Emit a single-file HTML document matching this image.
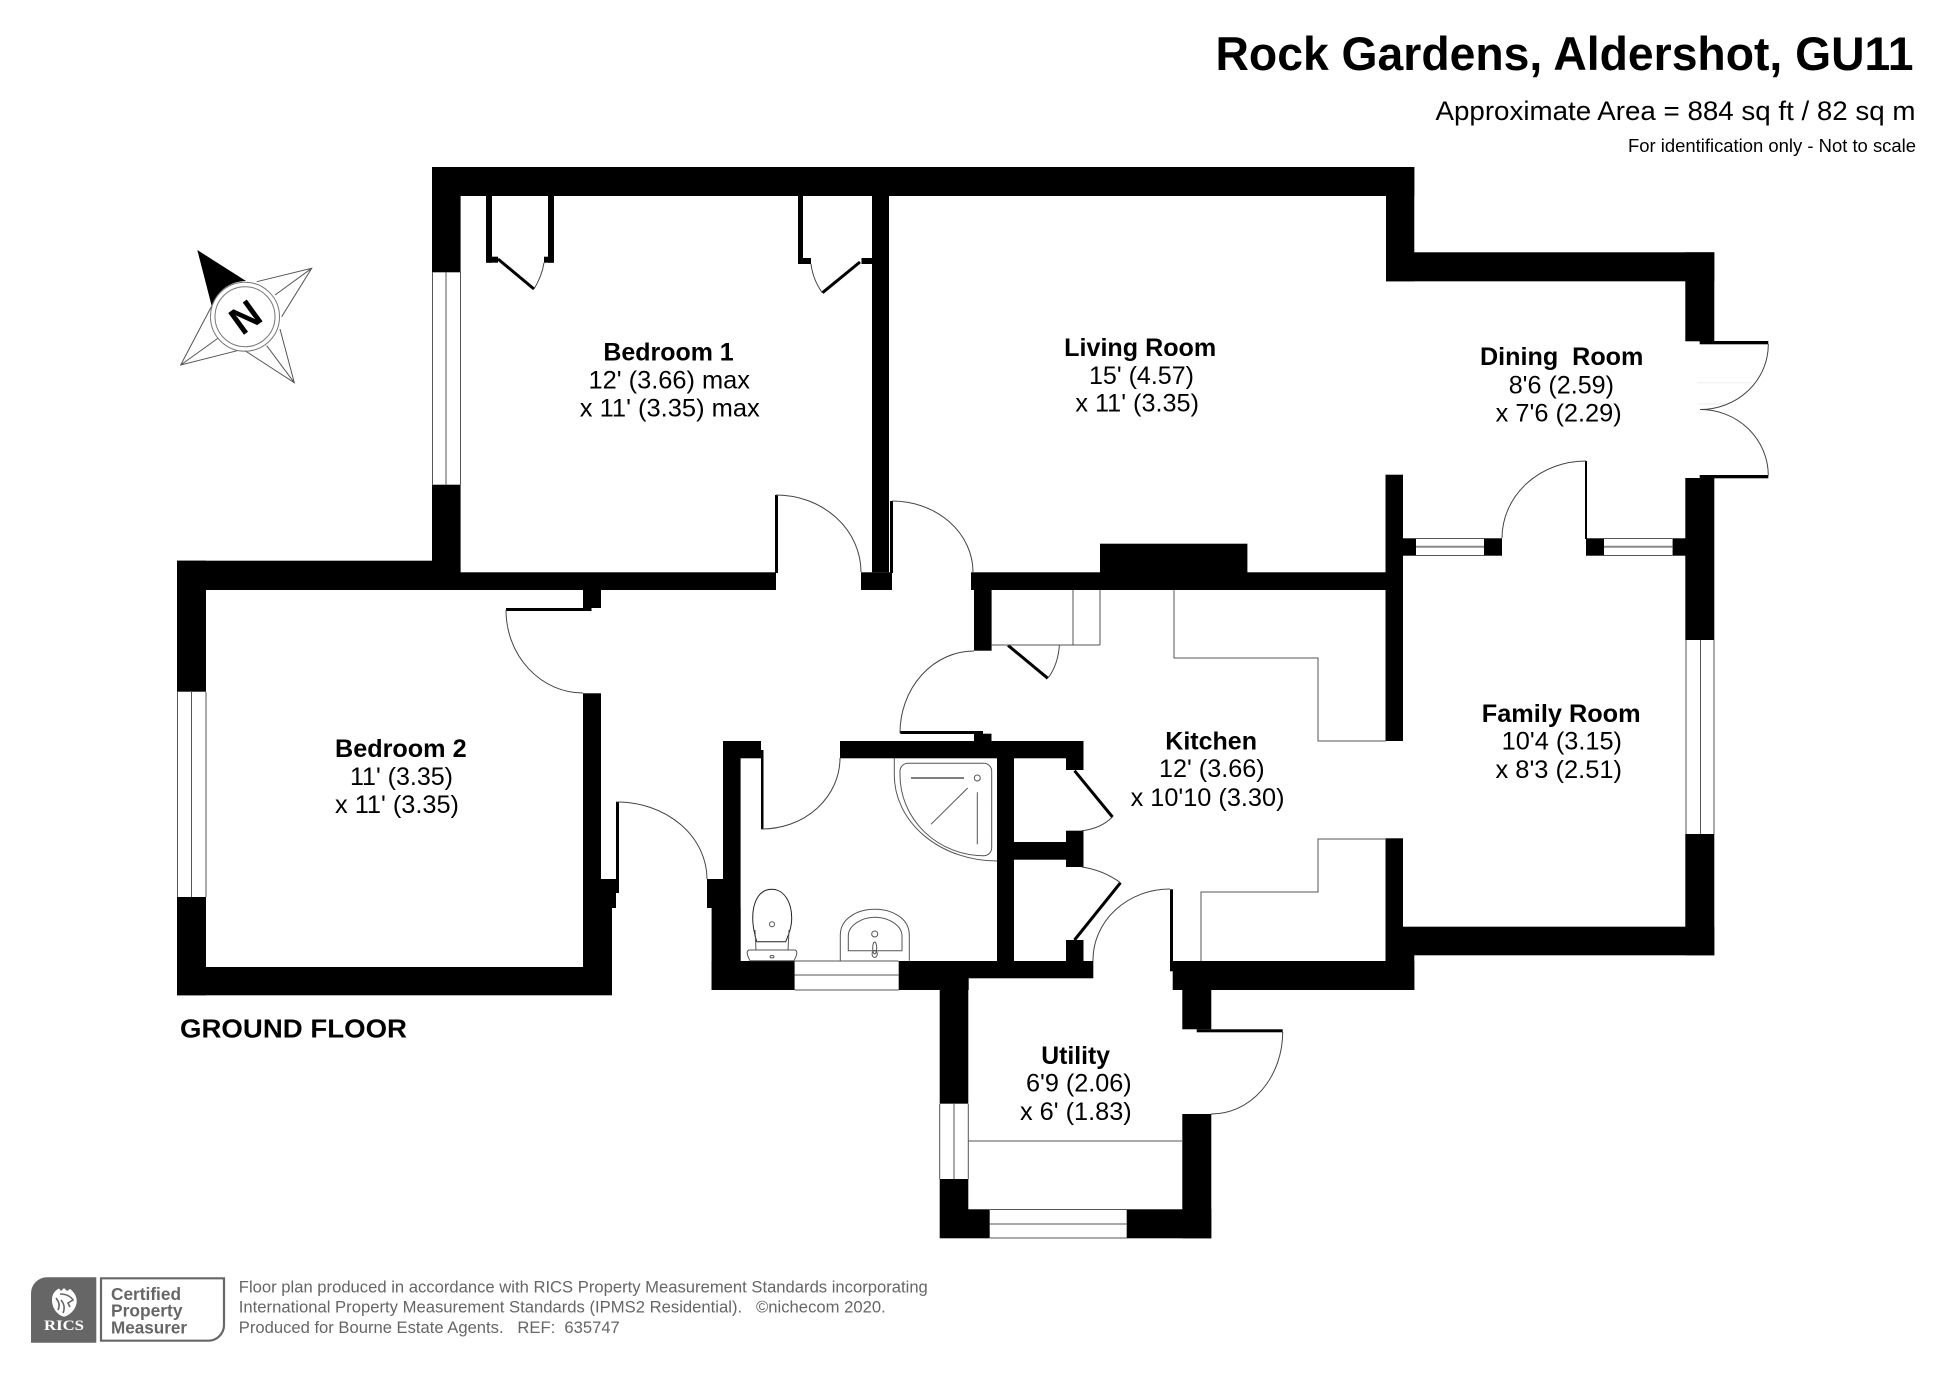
<!DOCTYPE html>
<html><head><meta charset="utf-8"><title>Rock Gardens floor plan</title>
<style>html,body{margin:0;padding:0;background:#fff}svg{display:block}
text{font-family:"Liberation Sans",sans-serif;fill:#000}
.b{font-weight:bold;font-size:25px}.r{font-size:25px}
.l{fill:none;stroke:#555;stroke-width:1}
.d{fill:none;stroke:#444;stroke-width:1}
.t{fill:none;stroke:#000;stroke-width:3}
.f{font-size:16.5px;fill:#666}
.c{font-size:17.7px;font-weight:bold;fill:#666}
</style></head><body>
<svg width="1946" height="1376" viewBox="0 0 1946 1376" xmlns="http://www.w3.org/2000/svg">
<rect width="1946" height="1376" fill="#fff"/>
<text x="1215.5" y="70" font-size="47" font-weight="bold" textLength="698" lengthAdjust="spacingAndGlyphs">Rock Gardens, Aldershot, GU11</text>
<text x="1435.5" y="120" font-size="27" textLength="480" lengthAdjust="spacingAndGlyphs">Approximate Area = 884 sq ft / 82 sq m</text>
<text x="1628" y="152" font-size="18" textLength="288" lengthAdjust="spacingAndGlyphs">For identification only - Not to scale</text>

<g fill="#000">
<rect x="432" y="167" width="982.3" height="29"/>
<rect x="1386" y="167" width="28.3" height="114.3"/>
<rect x="1386" y="252.3" width="328.3" height="29"/>
<rect x="1685.3" y="252.3" width="29" height="89"/>
<rect x="1699.7" y="341" width="68.6" height="3.3"/>
<rect x="1699.7" y="475" width="68.6" height="3.3"/>
<rect x="1685.3" y="478" width="29" height="162"/>
<rect x="1685.3" y="834" width="29" height="121.3"/>
<rect x="1402" y="926.7" width="312.3" height="28.6"/>
<rect x="1385.5" y="474.7" width="17.5" height="266.3"/>
<rect x="1385.5" y="838.3" width="17.5" height="122.7"/>
<rect x="1385.5" y="955" width="28.8" height="35"/>
<rect x="1403" y="538.3" width="13" height="17.4"/>
<rect x="1484" y="538.3" width="18" height="17.4"/>
<rect x="1586" y="538.3" width="18" height="17.4"/>
<rect x="1672.6" y="538.3" width="13" height="17.4"/>
<rect x="1585" y="461" width="2" height="78"/>
<rect x="432" y="167" width="28.6" height="105.3"/>
<rect x="432" y="484.7" width="28.6" height="105.3"/>
<rect x="177" y="560.7" width="283" height="29.3"/>
<rect x="432" y="572.3" width="344" height="17.7"/>
<rect x="775" y="495" width="3" height="78"/>
<rect x="177" y="560.7" width="29" height="131"/>
<rect x="177" y="897" width="29" height="98.3"/>
<rect x="177" y="967" width="435" height="28.3"/>
<rect x="583" y="693.3" width="18" height="186"/>
<rect x="583" y="879" width="36" height="14"/>
<rect x="583" y="893" width="33" height="15"/>
<rect x="583" y="908" width="29" height="87"/>
<rect x="583" y="590" width="18" height="18"/>
<rect x="506" y="608" width="85.5" height="3"/>
<rect x="616" y="801.7" width="3" height="78"/>
<rect x="872" y="196" width="17" height="376.3"/>
<rect x="861" y="572.3" width="31" height="17.7"/>
<rect x="890" y="501" width="3" height="72"/>
<rect x="971" y="572.3" width="415" height="17.7"/>
<rect x="1100" y="543.7" width="147.4" height="29"/>
<rect x="974" y="590" width="17.6" height="60.7"/>
<rect x="900.4" y="731" width="82.6" height="3"/>
<rect x="974" y="733.7" width="17.5" height="8"/>
<rect x="723" y="741" width="38" height="17.3"/>
<rect x="761" y="750" width="2.5" height="79.3"/>
<rect x="840" y="741" width="243.5" height="17.3"/>
<rect x="723" y="741" width="17.6" height="249"/>
<rect x="707" y="879" width="33" height="29"/>
<rect x="711.6" y="908" width="29" height="82"/>
<rect x="711.6" y="961" width="83" height="29"/>
<rect x="898.7" y="961" width="194.6" height="17.3"/>
<rect x="898.7" y="978" width="70" height="12"/>
<rect x="997" y="758" width="17" height="203"/>
<rect x="1066" y="758" width="17.5" height="12"/>
<rect x="1066" y="830.7" width="17.5" height="36.3"/>
<rect x="1014" y="842" width="52" height="17.7"/>
<rect x="1066" y="940" width="17.5" height="21"/>
<rect x="939.7" y="978" width="28.6" height="125.7"/>
<rect x="939.7" y="1179" width="28.6" height="59.3"/>
<rect x="968" y="1209.3" width="21.7" height="29"/>
<rect x="1126.7" y="1209.3" width="84.6" height="29"/>
<rect x="1182.3" y="1114" width="29" height="124.3"/>
<rect x="1172.7" y="961" width="241.6" height="29"/>
<rect x="1170" y="889.3" width="3" height="82"/>
<rect x="1182.3" y="978" width="29" height="51.3"/>
<rect x="1196.7" y="1029.3" width="86" height="3"/>
<!-- closets -->
<rect x="486" y="196" width="6" height="66.7"/>
<rect x="486" y="256.7" width="12" height="6"/>
<rect x="548" y="196" width="6" height="66.7"/>
<rect x="544" y="256.7" width="10" height="6"/>
<rect x="798" y="196" width="5" height="68"/>
<rect x="798" y="258" width="13" height="6"/>
<rect x="861.5" y="258" width="10.5" height="6"/>
</g>
<!-- door leaves -->
<path class="t" d="M498,259L534,289M860,262L822.5,292.7M1008,645.3L1047.8,678.3M1074.5,770.7L1112.5,817M1074.5,940L1120.5,882.7"/>
<!-- door arcs -->
<path class="d" d="M776,495A85,77 0 0 1 861,572M892,501A81,71 0 0 1 973,572M506,610A77,83 0 0 0 583,693M617,802A90,77 0 0 1 707,879M762,829A78,71 0 0 0 840,758M974,651A74,82 0 0 0 900,733M1170,889A77,71 0 0 0 1093,961M1586,461A84,77 0 0 0 1502,538M1282.7,1032A71,82 0 0 1 1211,1114M1768.3,344A68,65 0 0 1 1700,409.5M1700,409.5A68,66 0 0 1 1768.3,475.5M534,289Q542,276 544,262.7M822.5,293Q813,280 811,264M1048,678Q1058,665 1059.4,645M1112.5,817Q1100,829 1081.7,830.7M1081.7,867Q1103,870 1120.5,882.7"/>
<path d="M1697,382.7H1752M1697,404H1725" stroke="#eee" fill="none"/>
<!-- windows -->
<g class="l">
<path d="M432.5,272V485M446,272V485M460.5,272V485"/>
<path d="M177.5,692V897M191.5,692V897M206,692V897"/>
<path d="M1686,640V834M1700.5,640V834M1714,640V834"/>
<path d="M1416,538.5H1484M1416,555.5H1484M1604,538.5H1672.6M1604,555.5H1672.6"/>
<path d="M1416,546.7H1484M1604,546.7H1672.6" stroke-width="2" stroke="#888"/>
<path d="M794.6,961H898.7M794.6,975H898.7M794.6,990H898.7"/>
<path d="M939.7,1104V1179M954,1104V1179M968.3,1104V1179"/>
<path d="M990,1209.5H1127M990,1224H1127M990,1238H1127"/>
<path d="M968,1141H1182"/>
<path d="M1073,590V645M1100,590V645M991.6,645H1100"/>
<path d="M1386,741H1318V658H1174V590"/>
<path d="M1386,839H1318V892H1201V961"/>
<!-- shower -->
<path d="M894.3,758V775A102.7,86 0 0 0 997,861"/>
<path d="M900,775V771A8,8 0 0 1 908,763.3H984A8,8 0 0 1 991.7,771V848A8,8 0 0 1 984,855.7A84,80.7 0 0 1 900,775Z"/>
<path d="M911,778H964" stroke-width="1.5"/>
<circle cx="977.3" cy="778" r="3"/>
<path d="M967.7,788L931,824.3M977.3,792.3V844.3"/>
<!-- toilet -->
<path d="M771.7,889.3C759,889.3 752.7,902 752.7,918C752.7,928 755,936 756.7,941.7H785.7C788,936 791.7,928 791.7,918C791.7,902 784,889.3 771.7,889.3Z" stroke="#222"/>
<path d="M755,930L756,950M789,930L788,950"/>
<circle cx="772" cy="924.3" r="2.5"/>
<path d="M750,960.7C747,955 746,951 749,950H795C798,951 797,955 794,960.7Z"/>
<ellipse cx="772" cy="956.7" rx="2" ry="1.2"/>
<!-- sink -->
<path d="M840.3,960.7V935C840.3,918 858,909.3 875,909.3C892,909.3 909.3,918 909.3,935V960.7"/>
<path d="M848.3,950.7V936C848.3,925 862,917.3 875,917.3C888,917.3 902,925 902,936V950.7Z"/>
<circle cx="874.7" cy="934" r="3"/>
<ellipse cx="874.7" cy="948" rx="2" ry="6"/>
<ellipse cx="874.7" cy="954" rx="2.6" ry="3.5"/>
</g>
<!-- compass -->
<g>
<path d="M197.3,250L246,281A36,36 0 0 0 211.7,306Z" fill="#000"/>
<path class="l" stroke="#777" d="M211.7,306L180.7,365L237.3,350.7M180.7,365L218.3,338M256.7,281.7L311.7,268.3L281.7,316.7M311.7,268.3L275,295M245,350.7L294.3,382.7L280,329M294.3,382.7L266.7,345.7"/>
<circle cx="245" cy="316.7" r="34.5" fill="none" stroke="#777"/>
<circle cx="245" cy="316.7" r="30" fill="none" stroke="#777"/>
<text transform="translate(245 316.7) rotate(-36)" x="0" y="14" text-anchor="middle" font-size="39" font-weight="bold">N</text>
</g>
<!-- labels -->
<text class="b" x="603.4" y="360.7" textLength="130.3" lengthAdjust="spacingAndGlyphs">Bedroom 1</text>
<text class="r" x="588.5" y="388.7" textLength="161.5" lengthAdjust="spacingAndGlyphs">12' (3.66) max</text>
<text class="r" x="579.8" y="416.7" textLength="180" lengthAdjust="spacingAndGlyphs">x 11' (3.35) max</text>
<text class="b" x="1064.2" y="356" textLength="152" lengthAdjust="spacingAndGlyphs">Living Room</text>
<text class="r" x="1089" y="384" textLength="105" lengthAdjust="spacingAndGlyphs">15' (4.57)</text>
<text class="r" x="1075.4" y="411.7" textLength="123.6" lengthAdjust="spacingAndGlyphs">x 11' (3.35)</text>
<text class="b" x="1480" y="365" textLength="163.4" lengthAdjust="spacingAndGlyphs" xml:space="preserve">Dining  Room</text>
<text class="r" x="1508.7" y="393.3" textLength="105.3" lengthAdjust="spacingAndGlyphs">8'6 (2.59)</text>
<text class="r" x="1495.7" y="421.7" textLength="126" lengthAdjust="spacingAndGlyphs">x 7'6 (2.29)</text>
<text class="b" x="1481.8" y="722" textLength="158.8" lengthAdjust="spacingAndGlyphs">Family Room</text>
<text class="r" x="1501.7" y="749.6" textLength="120.3" lengthAdjust="spacingAndGlyphs">10'4 (3.15)</text>
<text class="r" x="1495.5" y="778" textLength="126.5" lengthAdjust="spacingAndGlyphs">x 8'3 (2.51)</text>
<text class="b" x="1165.3" y="749.6" textLength="91.7" lengthAdjust="spacingAndGlyphs">Kitchen</text>
<text class="r" x="1159" y="777" textLength="105.6" lengthAdjust="spacingAndGlyphs">12' (3.66)</text>
<text class="r" x="1130.6" y="806" textLength="153.9" lengthAdjust="spacingAndGlyphs">x 10'10 (3.30)</text>
<text class="b" x="335" y="757" textLength="131.6" lengthAdjust="spacingAndGlyphs">Bedroom 2</text>
<text class="r" x="350" y="785" textLength="103" lengthAdjust="spacingAndGlyphs">11' (3.35)</text>
<text class="r" x="335" y="813" textLength="124" lengthAdjust="spacingAndGlyphs">x 11' (3.35)</text>
<text class="b" x="1041.3" y="1064" textLength="68.7" lengthAdjust="spacingAndGlyphs">Utility</text>
<text class="r" x="1026" y="1091.7" textLength="105.7" lengthAdjust="spacingAndGlyphs">6'9 (2.06)</text>
<text class="r" x="1020" y="1120" textLength="111.7" lengthAdjust="spacingAndGlyphs">x 6' (1.83)</text>
<text x="180" y="1037.5" font-size="25.5" font-weight="bold" textLength="227" lengthAdjust="spacingAndGlyphs">GROUND FLOOR</text>
<!-- footer -->
<path d="M47,1277.3H96.3V1342.7H31V1293.3A16,16 0 0 1 47,1277.3Z" fill="#666"/>
<path d="M101,1278.3H224V1325A15.7,15.7 0 0 1 208.3,1340.7H101Z" fill="none" stroke="#666" stroke-width="2.2"/>
<!-- lion mark -->
<path d="M52,1300C52,1293 56,1290 59,1288.5L61,1291L64,1288L67,1291L70,1289C74,1292 76.7,1296 76.7,1301C76.7,1308 71,1315 64,1316.7C57,1315 52,1308 52,1300Z" fill="#fff"/>
<path d="M60,1294Q69,1294 73,1300L68,1303L70,1307M56,1298Q61,1304 58,1310M61,1300Q66,1306 63,1313" fill="none" stroke="#666" stroke-width="1.6"/>
<text x="44" y="1330" font-size="15" font-weight="bold" style="fill:#fff;font-family:'Liberation Serif',serif" textLength="40" lengthAdjust="spacingAndGlyphs">RICS</text>
<text class="c" x="111" y="1300" textLength="70" lengthAdjust="spacingAndGlyphs">Certified</text>
<text class="c" x="111" y="1316.7" textLength="71.5" lengthAdjust="spacingAndGlyphs">Property</text>
<text class="c" x="111" y="1333.3" textLength="76" lengthAdjust="spacingAndGlyphs">Measurer</text>
<text class="f" x="238.8" y="1292.7" textLength="689" lengthAdjust="spacingAndGlyphs">Floor plan produced in accordance with RICS Property Measurement Standards incorporating</text>
<text class="f" x="238.8" y="1312.7" textLength="647" lengthAdjust="spacingAndGlyphs" xml:space="preserve">International Property Measurement Standards (IPMS2 Residential).   ©nichecom 2020.</text>
<text class="f" x="238.8" y="1333" textLength="381" lengthAdjust="spacingAndGlyphs" xml:space="preserve">Produced for Bourne Estate Agents.   REF:  635747</text>
</svg>
</body></html>
